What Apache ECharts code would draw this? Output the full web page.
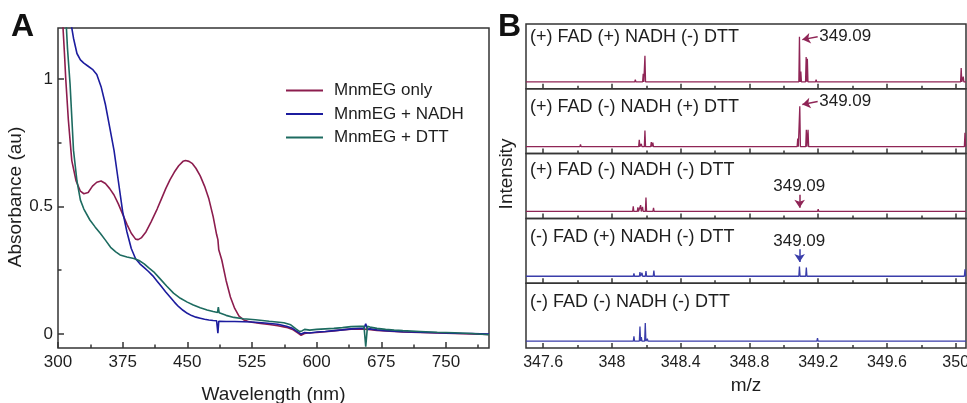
<!DOCTYPE html>
<html><head><meta charset="utf-8">
<script src="https://cdn.jsdelivr.net/npm/echarts@6/dist/echarts.min.js"></script>
<style>html,body{margin:0;padding:0;background:#fff}#c{width:967px;height:403px}</style>
</head><body><div id="c"></div>
<script>
// ---------- Panel A: absorbance spectra ----------
const wlTicks = [300, 375, 450, 525, 600, 675, 750];
const wlMinor = [337.5, 412.5, 487.5, 562.5, 637.5, 712.5, 787.5];
const absTicks = [0, 0.5, 1];
const absMinor = [0.25, 0.75];
const seriesNamesA = ['MnmEG only', 'MnmEG + NADH', 'MnmEG + DTT'];

const redWl  = [305,307.5,309,312,316,321,326,330,335,340,345,350,355,360,365,370,375,380,385,390,393,397,402,408,415,420,425,430,435,440,445,448,452,456,460,465,470,475,480,484,485.5,486.5,490,495,500,505,510,515,520,525,535,545,555,565,572,578,582,586,590,600,610,620,630,640,650,660,670,680,690,700,720,740,760,780,800];
const redAbs = [1.25,1.1,1.0,0.84,0.68,0.6,0.56,0.55,0.555,0.58,0.595,0.6,0.59,0.57,0.545,0.51,0.47,0.43,0.395,0.372,0.37,0.378,0.40,0.44,0.49,0.53,0.57,0.605,0.635,0.66,0.677,0.68,0.677,0.668,0.65,0.62,0.58,0.53,0.46,0.39,0.37,0.33,0.29,0.21,0.145,0.10,0.07,0.056,0.05,0.046,0.041,0.037,0.032,0.026,0.018,0.004,-0.005,0.002,0.004,0.006,0.009,0.012,0.016,0.019,0.02,0.018,0.014,0.012,0.01,0.008,0.006,0.004,0.002,0.0,-0.002];

const blueWl  = [315,318,322,326,330,335,340,345,350,355,360,365,370,375,380,385,390,395,400,405,410,415,420,425,430,435,440,445,450,455,460,465,470,475,480,484,485.5,486.5,488,495,505,515,525,540,555,565,572,578,582,586,592,600,610,620,630,640,650,655,657,659,662,670,680,690,700,720,740,760,780,800];
const blueAbs = [1.22,1.16,1.1,1.075,1.062,1.05,1.038,1.018,0.97,0.9,0.81,0.72,0.6,0.48,0.4,0.335,0.295,0.275,0.26,0.245,0.228,0.207,0.186,0.165,0.145,0.125,0.107,0.093,0.081,0.072,0.066,0.062,0.058,0.055,0.053,0.052,0.003,0.05,0.05,0.049,0.049,0.048,0.047,0.043,0.038,0.03,0.022,0.008,0.0,0.006,0.004,0.008,0.01,0.013,0.016,0.02,0.022,0.022,0.04,0.018,0.02,0.016,0.013,0.011,0.009,0.007,0.005,0.003,0.002,0.0];

const tealWl  = [309,311,314,318,322,326,330,337,343,349,355,361,367,372,380,388,394,400,405,411,418,426,434,442,450,457,465,473,480,485,486,487,495,504,515,529,545,562,570,576,580,583,586,592,600,610,620,630,640,650,655,657,659,662,670,680,690,700,720,740,760,780,800];
const tealAbs = [1.25,1.12,0.98,0.72,0.6,0.525,0.49,0.447,0.42,0.395,0.368,0.34,0.322,0.31,0.302,0.296,0.288,0.275,0.26,0.244,0.218,0.188,0.16,0.14,0.125,0.114,0.103,0.094,0.088,0.084,0.105,0.083,0.073,0.065,0.06,0.056,0.05,0.044,0.036,0.02,0.01,0.012,0.018,0.015,0.018,0.02,0.022,0.025,0.029,0.03,0.03,-0.05,0.03,0.027,0.022,0.018,0.015,0.013,0.01,0.007,0.005,0.002,-0.003];

// ---------- Panel B: mass spectra ----------
const mzTicks = [347.6, 348, 348.4, 348.8, 349.2, 349.6, 350];
const mzMinor = [347.8, 348.2, 348.6, 349.0, 349.4, 349.8];
const panelLabels = ['(+) FAD (+) NADH (-) DTT', '(+) FAD (-) NADH (+) DTT', '(+) FAD (-) NADH (-) DTT', '(-) FAD (+) NADH (-) DTT', '(-) FAD (-) NADH (-) DTT'];
const targetMz = 349.09;

const p1Mz = [348.136, 348.182, 348.192, 349.091, 349.099, 349.130, 349.137, 349.188, 350.032, 350.044];
const p1H  = [4, 14, 45, 78, 18, 43, 40, 4, 24, 9];
const p2Mz = [347.817, 348.159, 348.171, 348.192, 348.229, 348.238, 349.081, 349.093, 349.131, 349.141, 350.054];
const p2H  = [4, 12, 5, 28, 8, 7, 14, 70, 29, 29, 24];
const p3Mz = [347.623, 347.672, 347.697, 348.124, 348.151, 348.167, 348.178, 348.198, 348.242, 348.31, 348.803, 348.92, 349.093, 349.147, 349.176, 349.2, 349.244, 349.665, 349.691, 349.866];
const p3H  = [2, 2, 2, 9, 7, 11, 8, 24, 6, 2, 3, 2, 3, 2, 2, 4, 2, 2, 2, 2];
const p4Mz = [348.128, 348.163, 348.175, 348.198, 348.244, 349.091, 349.131, 350.054];
const p4H  = [5, 7, 6, 9, 10, 17, 15, 12];
const p5Mz = [348.128, 348.163, 348.171, 348.194, 348.206, 348.242, 348.652, 349.137, 349.167, 349.196];
const p5H  = [8, 25, 7, 31, 4, 2, 1, 2, 2, 5];

const FONT = "'Liberation Sans', Arial, Helvetica, sans-serif";
const RED = '#8c1d4e', BLUE = '#1c1c9e', TEAL = '#1d6b60';
const RED_B = '#8f2556', BLUE_B = '#3a3daa';
const FRAME = '#353535', TXT = '#1e1e1e';
const MZ_MIN = 347.5, MZ_MAX = 350.06;

function zip(a, b) { return a.map((v, i) => [v, b[i]]); }
function spectrum(mz, h) {
  const w = 0.0035, pts = [[MZ_MIN, 0]];
  const order = mz.map((m, i) => i).sort((a, b) => mz[a] - mz[b]);
  for (const i of order) pts.push([mz[i] - w, 0], [mz[i], h[i]], [mz[i] + w, 0]);
  pts.push([MZ_MAX, 0]);
  return pts;
}
function noLine() { return {show: false, onZero: false}; }
function tick(len, vals) { return {show: true, inside: true, length: len, customValues: vals, lineStyle: {color: FRAME, width: 1.5}}; }

const grids = [{left: 58, top: 28, width: 431, height: 320, show: true, borderColor: FRAME, borderWidth: 1.5, outerBoundsMode: 'none'}];
const xAxes = [
  {gridIndex: 0, type: 'value', min: 300, max: 800, position: 'bottom',
   axisLine: noLine(), splitLine: {show: false}, axisTick: tick(6, wlTicks),
   axisLabel: {customValues: wlTicks, fontSize: 17, color: TXT, margin: 6, fontFamily: FONT},
   name: 'Wavelength (nm)', nameLocation: 'middle', nameGap: 37,
   nameTextStyle: {fontSize: 19, color: TXT, fontFamily: FONT}},
  {gridIndex: 0, type: 'value', min: 300, max: 800, position: 'bottom',
   axisLine: noLine(), splitLine: {show: false}, axisLabel: {show: false}, axisTick: tick(3.5, wlMinor)}
];
const yAxes = [
  {gridIndex: 0, type: 'value', min: -0.055, max: 1.2, position: 'left',
   axisLine: noLine(), splitLine: {show: false}, axisTick: tick(6, absTicks),
   axisLabel: {customValues: absTicks, fontSize: 17, color: TXT, margin: 5, fontFamily: FONT},
   name: 'Absorbance (au)', nameLocation: 'middle', nameGap: 31,
   nameTextStyle: {fontSize: 19, color: TXT, fontFamily: FONT, padding: [0, 18, 0, 0]}},
  {gridIndex: 0, type: 'value', min: -0.055, max: 1.2, position: 'left',
   axisLine: noLine(), splitLine: {show: false}, axisLabel: {show: false}, axisTick: tick(3.5, absMinor)}
];
const series = [
  {name: seriesNamesA[0], type: 'line', xAxisIndex: 0, yAxisIndex: 0, data: zip(redWl, redAbs), showSymbol: false, symbol: 'none', lineStyle: {width: 1.6, color: RED}, itemStyle: {color: RED}},
  {name: seriesNamesA[1], type: 'line', xAxisIndex: 0, yAxisIndex: 0, data: zip(blueWl, blueAbs), showSymbol: false, symbol: 'none', lineStyle: {width: 1.6, color: BLUE}, itemStyle: {color: BLUE}},
  {name: seriesNamesA[2], type: 'line', xAxisIndex: 0, yAxisIndex: 0, data: zip(tealWl, tealAbs), showSymbol: false, symbol: 'none', lineStyle: {width: 1.6, color: TEAL}, itemStyle: {color: TEAL}}
];

const panels = [[p1Mz, p1H], [p2Mz, p2H], [p3Mz, p3H], [p4Mz, p4H], [p5Mz, p5H]];
const panelColors = [RED_B, RED_B, RED_B, BLUE_B, BLUE_B];
const PH = 64.8;
panels.forEach((p, i) => {
  const g = grids.length;
  grids.push({left: 526, right: 1, top: 24 + PH * i, height: PH, show: true, borderColor: FRAME, borderWidth: 1.5, outerBoundsMode: 'none'});
  const xi = xAxes.length;
  const last = i === panels.length - 1;
  xAxes.push({gridIndex: g, type: 'value', min: MZ_MIN, max: MZ_MAX, position: 'bottom',
    axisLine: noLine(), splitLine: {show: false}, axisTick: tick(5, mzTicks),
    axisLabel: {show: last, customValues: mzTicks, fontSize: 16, color: TXT, margin: 7, fontFamily: FONT},
    name: last ? 'm/z' : '', nameLocation: 'middle', nameGap: 28,
    nameTextStyle: {fontSize: 19, color: TXT, fontFamily: FONT}});
  xAxes.push({gridIndex: g, type: 'value', min: MZ_MIN, max: MZ_MAX, position: 'bottom',
    axisLine: noLine(), splitLine: {show: false}, axisLabel: {show: false}, axisTick: tick(3, mzMinor)});
  const yi = yAxes.length;
  yAxes.push({gridIndex: g, type: 'value', min: -12, max: 100, show: false});
  const col = panelColors[i];
  const s = {type: 'line', xAxisIndex: xi, yAxisIndex: yi, data: spectrum(p[0], p[1]),
    showSymbol: false, symbol: 'none', lineStyle: {width: 1.3, color: col}, itemStyle: {color: col}};
  const lblStyle = {show: true, formatter: targetMz.toFixed(2), fontSize: 17, color: TXT, fontFamily: FONT};
  if (i === 0 || i === 1) {
    s.markLine = {silent: true, animation: false, label: {show: false},
      lineStyle: {color: col, width: 1.5, type: 'solid'},
      data: [[{coord: [349.197, 78], symbol: 'none'}, {coord: [349.108, 73], symbol: 'arrow', symbolSize: 8}]]};
    s.markPoint = {silent: true, animation: false, symbol: 'circle', symbolSize: 0.1,
      itemStyle: {color: 'rgba(0,0,0,0)'},
      label: Object.assign({position: 'right', distance: 1}, lblStyle),
      data: [{coord: [349.2, 78]}]};
  } else if (i === 2 || i === 3) {
    const top = i === 2 ? 29 : 46.5, tip = i === 2 ? 6.5 : 24.6, ty = i === 2 ? 43.6 : 61;
    s.markLine = {silent: true, animation: false, label: {show: false},
      lineStyle: {color: col, width: 1.5, type: 'solid'},
      data: [[{coord: [349.092, top], symbol: 'none'}, {coord: [349.092, tip], symbol: 'arrow', symbolSize: 8}]]};
    s.markPoint = {silent: true, animation: false, symbol: 'circle', symbolSize: 0.1,
      itemStyle: {color: 'rgba(0,0,0,0)'},
      label: Object.assign({position: 'inside'}, lblStyle),
      data: [{coord: [349.09, ty]}]};
  }
  series.push(s);
});

const labelY = [36.7, 106.7, 170, 236.7, 301.7];
const graphics = [
  {type: 'text', left: 11, top: 11, style: {text: 'A', fontSize: 32, fontWeight: 'bold', fill: '#111', fontFamily: FONT}},
  {type: 'text', left: 498, top: 11, style: {text: 'B', fontSize: 32, fontWeight: 'bold', fill: '#111', fontFamily: FONT}},
  {type: 'text', x: 507, y: 174, rotation: Math.PI / 2, style: {text: 'Intensity', fontSize: 19, fill: TXT, fontFamily: FONT, align: 'center', verticalAlign: 'middle'}}
];
panelLabels.forEach((t, i) => graphics.push({type: 'text', x: 530, y: labelY[i],
  style: {text: t, fontSize: 18, fill: TXT, fontFamily: FONT, align: 'left', verticalAlign: 'middle'}}));

const chart = echarts.init(document.getElementById('c'), null, {renderer: 'canvas'});
chart.setOption({
  backgroundColor: '#fff',
  animation: false,
  textStyle: {fontFamily: FONT},
  grid: grids, xAxis: xAxes, yAxis: yAxes, series: series,
  legend: {data: seriesNamesA, orient: 'vertical', left: 286, top: 82, icon: 'rect',
    itemWidth: 37, itemHeight: 2, itemGap: 6.5, padding: 0,
    textStyle: {fontSize: 17, color: TXT, fontFamily: FONT, padding: [0, 0, 0, 6]}},
  graphic: graphics
});
</script></body></html>
